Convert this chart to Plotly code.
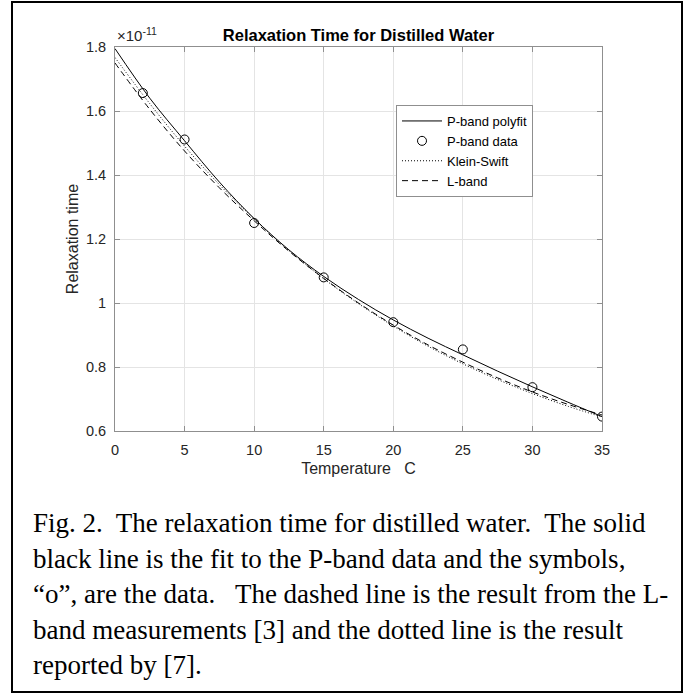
import plotly.graph_objects as go

# ---------------- data (relaxation time in units of 1e-11 s) ----------------
temp_grid = [0, 2.5, 5, 7.5, 10, 12.5, 15, 17.5, 20, 22.5, 25, 27.5, 30, 32.5, 35]
pband_fit = [1.795, 1.640, 1.507, 1.378, 1.264, 1.166, 1.083, 1.011, 0.947,
             0.890, 0.838, 0.787, 0.738, 0.691, 0.645]
klein_swift = [1.767, 1.623, 1.490, 1.370, 1.263, 1.164, 1.076, 0.998, 0.928,
               0.865, 0.810, 0.761, 0.717, 0.678, 0.644]
lband = [1.750, 1.605, 1.475, 1.360, 1.257, 1.162, 1.077, 1.000, 0.931,
         0.869, 0.815, 0.766, 0.722, 0.684, 0.650]
data_temp = [2, 5, 10, 15, 20, 25, 30, 35]
data_tau = [1.656, 1.511, 1.250, 1.080, 0.940, 0.855, 0.737, 0.645]

x_ticks = [0, 5, 10, 15, 20, 25, 30, 35]
y_ticks = [0.6, 0.8, 1.0, 1.2, 1.4, 1.6, 1.8]
y_tick_text = ["0.6", "0.8", "1", "1.2", "1.4", "1.6", "1.8"]

caption_lines = [
    "Fig. 2.\u00a0 The relaxation time for distilled water.\u00a0 The solid",
    "black line is the fit to the P-band data and the symbols,",
    "\u201co\u201d, are the data.\u00a0\u00a0 The dashed line is the result from the L-",
    "band measurements [3] and the dotted line is the result",
    "reported by [7].",
]

# ---------------- layout geometry (pixels) ----------------
W, H = 699, 694
L, R, T, B = 115, 602, 47, 431


def px(x):
    return (x - L) / (R - L)


def py(y):
    return (B - y) / (B - T)


AX_GRAY = "#8f8f8f"
TXT = "#262626"
SANS = "Liberation Sans, Arial, sans-serif"
SERIF = "Liberation Serif, Times New Roman, serif"

fig = go.Figure()
fig.add_trace(go.Scatter(x=temp_grid, y=pband_fit, mode="lines", name="P-band polyfit",
                         line=dict(color="black", width=1, shape="spline")))
fig.add_trace(go.Scatter(x=data_temp, y=data_tau, mode="markers", name="P-band data",
                         marker=dict(symbol="circle-open", size=9, color="black",
                                     line=dict(width=1, color="black"))))
fig.add_trace(go.Scatter(x=temp_grid, y=klein_swift, mode="lines", name="Klein-Swift",
                         line=dict(color="black", width=1, dash="1px,2px", shape="spline")))
fig.add_trace(go.Scatter(x=temp_grid, y=lband, mode="lines", name="L-band",
                         line=dict(color="black", width=1, dash="6px,4px", shape="spline")))

axis_common = dict(
    showline=True, linecolor=AX_GRAY, linewidth=1, mirror="allticks",
    ticks="inside", ticklen=5, tickwidth=1, tickcolor=AX_GRAY,
    showgrid=True, gridcolor="#e4e4e4", gridwidth=1, zeroline=False,
    tickfont=dict(family=SANS, size=14.5, color=TXT),
)

fig.update_xaxes(range=[0, 35], tickvals=x_ticks, ticklabelstandoff=6,
                 title=dict(text="Temperature\u00a0\u00a0\u00a0C", standoff=5,
                            font=dict(family=SANS, size=16, color=TXT)),
                 **axis_common)
fig.update_yaxes(range=[0.6, 1.8], tickvals=y_ticks, ticktext=y_tick_text,
                 ticklabelstandoff=5,
                 title=dict(text="Relaxation time", standoff=3,
                            font=dict(family=SANS, size=16, color=TXT)),
                 **axis_common)

annotations = [
    dict(text="\u00d710<sup>-11</sup>", xref="paper", yref="paper", x=0, y=1,
         xanchor="left", yanchor="bottom", yshift=1, showarrow=False,
         font=dict(family=SANS, size=15, color=TXT)),
]
cap_y0, cap_dy = 523, 35.5
for i, line in enumerate(caption_lines):
    annotations.append(dict(
        text=line, xref="paper", yref="paper", x=px(31), y=py(cap_y0 + i * cap_dy),
        xanchor="left", yanchor="middle", showarrow=False,
        font=dict(family=SERIF, size=27, color="black")))

fig.update_layout(
    width=W, height=H,
    margin=dict(l=L, r=W - R, t=T, b=H - B, pad=0),
    paper_bgcolor="white", plot_bgcolor="white",
    title=dict(text="<b>Relaxation Time for Distilled Water</b>",
               x=(L + R) / 2 / W, xanchor="center", y=1 - 35 / H, yanchor="middle",
               font=dict(family=SANS, size=16.5, color="black")),
    legend=dict(x=px(396), y=py(105), xanchor="left", yanchor="top",
                bgcolor="white", bordercolor=AX_GRAY, borderwidth=1,
                font=dict(family=SANS, size=13, color="black"),
                itemwidth=40, tracegroupgap=0),
    showlegend=True,
    annotations=annotations,
    shapes=[dict(type="rect", xref="paper", yref="paper",
                 x0=px(12), x1=px(682), y0=py(692), y1=py(2),
                 line=dict(color="black", width=2), fillcolor="rgba(0,0,0,0)")],
)

fig.write_html("out.html")
